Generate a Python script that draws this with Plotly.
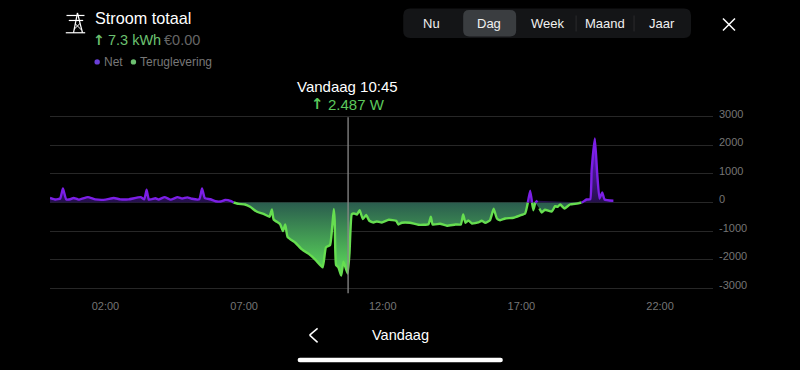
import plotly.graph_objects as go

# Chart data: minutes after midnight and power in W (positive = net, negative = teruglevering)
minutes = [0,12,22,28,35,44,51,62,82,98,120,138,152,170,196,204,209,214,228,235,248,261,276,286,297,307,323,329,335,347,358,369,379,392,
           397,408,422,433,448,462,475,480,484,498,504,509,514,531,545,560,574,590,597,606,610,614,616,619,624,630,635,644,648,653,658,664,670,
           677,684,691,700,707,718,733,749,754,761,779,797,819,824,828,844,859,877,889,894,899,905,913,927,934,942,952,960,967,974,985,1003,1017,1028,
           1034,1039,1043,1046,1050,1055,1059,1064,1071,1086,1093,1098,1104,1113,1125,1140,1150,
           1153,1161,1169,1172,1179,1184,1189,1195,1200,1219]
power = [160,105,140,490,115,115,160,100,190,110,100,160,110,110,190,115,450,100,150,105,190,100,190,140,180,130,115,490,150,115,45,35,90,45,
         0,-50,-70,-150,-325,-400,-500,-245,-595,-760,-1000,-770,-1200,-1410,-1640,-1800,-2000,-2270,-1570,-1490,-970,-230,-620,-2190,-2270,-2560,-2075,-2487,-1780,-410,-385,-420,-270,
         -580,-440,-640,-700,-665,-700,-605,-640,-770,-710,-710,-780,-760,-500,-770,-745,-815,-770,-770,-420,-710,-630,-735,-700,-640,-710,-620,-220,-560,-620,-560,-535,-455,-385,
         0,410,0,-270,0,60,-210,-350,-255,-315,-130,-150,-70,-210,-70,-35,0,
         20,105,115,1130,2240,1010,140,350,105,60]

net = [v if v >= 0 else None for v in power]
teruglevering = [v if v <= 0 else None for v in power]

y_ticks = [3000, 2000, 1000, 0, -1000, -2000, -3000]
y_labels = ["3000", "2000", "1000", "0", "-1000", "-2000", "-3000"]
x_ticks = [120, 420, 720, 1020, 1320]
x_labels = ["02:00", "07:00", "12:00", "17:00", "22:00"]
cursor_minute = 645
tabs = ["Nu", "Dag", "Week", "Maand", "Jaar"]

FONT = "Liberation Sans, Arial, sans-serif"
ARROW_FONT = "DejaVu Sans, sans-serif"
L, R, T, B = 49.5, 713.0, 113.64, 290.86


def px(x):
    return (x - L) / (R - L)


def py(y):
    return (B - y) / (B - T)


def seg(x0, y0, x1, y1, color="#ffffff", width=1.5):
    return dict(type="line", xref="paper", yref="paper", x0=px(x0), y0=py(y0), x1=px(x1), y1=py(y1),
                line=dict(color=color, width=width), layer="above")


def rrect(x0, y0, x1, y1, r, color):
    d = (f"M {px(x0+r)} {py(y0)} L {px(x1-r)} {py(y0)} Q {px(x1)} {py(y0)} {px(x1)} {py(y0+r)} "
         f"L {px(x1)} {py(y1-r)} Q {px(x1)} {py(y1)} {px(x1-r)} {py(y1)} L {px(x0+r)} {py(y1)} "
         f"Q {px(x0)} {py(y1)} {px(x0)} {py(y1-r)} L {px(x0)} {py(y0+r)} Q {px(x0)} {py(y0)} {px(x0+r)} {py(y0)} Z")
    return dict(type="path", xref="paper", yref="paper", path=d, fillcolor=color, line=dict(width=0), layer="below")


def dot(x, y, r, color):
    return dict(type="circle", xref="paper", yref="paper", x0=px(x - r), x1=px(x + r), y0=py(y + r), y1=py(y - r),
                fillcolor=color, line=dict(width=0), layer="above")


def text(x, y, s, size, color, anchor="left", family=FONT):
    return dict(xref="paper", yref="paper", x=px(x), y=py(y), text=s, showarrow=False, xanchor=anchor, yanchor="middle",
                font=dict(family=family, size=size, color=color), align=anchor, borderpad=0)


fig = go.Figure()
fig.add_trace(go.Scatter(
    x=minutes, y=teruglevering, name="Teruglevering", mode="lines",
    line=dict(color="#66de50", width=2.4, shape="spline", smoothing=0.4),
    fill="tozeroy",
    fillgradient=dict(type="vertical", colorscale=[[0, "#5ee05a"], [1, "#2a5c4e"]]),
    hoverinfo="skip",
))
fig.add_trace(go.Scatter(
    x=minutes, y=net, name="Net", mode="lines",
    line=dict(color="#7c1fe6", width=2.4, shape="spline", smoothing=0.4),
    fill="tozeroy",
    fillgradient=dict(type="vertical", colorscale=[[0, "#24104a"], [1, "#6a1fd8"]]),
    hoverinfo="skip",
))

shapes = [
    dict(type="line", xref="x", yref="paper", x0=cursor_minute, x1=cursor_minute, y0=py(117), y1=py(293),
         line=dict(color="#8a8a8a", width=1.3), layer="above"),
    rrect(403, 8, 691, 37.5, 7, "#141517"),
    rrect(463, 9.5, 516, 36, 6, "#3a3d40"),
    seg(576, 15, 576, 31, "#2a2b2d", 1),
    seg(634, 15, 634, 31, "#2a2b2d", 1),
    seg(723, 18, 735, 30),
    seg(735, 18, 723, 30),
    seg(317.3, 328.3, 309.3, 335),
    seg(309.3, 335, 317.3, 342.3),
    rrect(297.3, 357.7, 502.7, 362.3, 2.3, "#ffffff"),
    dot(96.7, 61.5, 2.7, "#6a3fd8"),
    dot(133, 61.5, 2.7, "#6cc070"),
    seg(65.3, 32.3, 84.7, 32.3, width=1.2),
    seg(66, 15, 84, 15, width=1.2),
    seg(68.3, 20, 82.7, 20, width=1.2),
    seg(77, 12.5, 73, 32.3, width=1.2),
    seg(77, 12.5, 82, 32.3, width=1.2),
    seg(74.5, 23, 80.5, 29, width=1),
    seg(79.5, 23, 73.5, 29, width=1),
]

annotations = [
    text(93.5, 18, "Stroom totaal", 16.2, "#ffffff"),
    text(98.5, 40, "<b>↑</b>", 14, "#6cc070", "center", ARROW_FONT),
    text(107, 40, "7.3 kWh", 14.5, "#6cc070"),
    text(163, 40, "€0.00", 14.5, "#666666"),
    text(102.5, 61.5, "Net", 12, "#777777"),
    text(139, 61.5, "Teruglevering", 12, "#777777"),
    text(347.5, 86.5, "Vandaag 10:45", 15, "#ffffff", "center"),
    text(317, 104, "<b>↑</b>", 15, "#5cc85c", "center", ARROW_FONT),
    text(327, 104.5, "2.487 W", 15, "#5cc85c"),
    text(400, 335, "Vandaag", 14.5, "#ffffff", "center"),
]
for label, cx in zip(tabs, [431, 489, 547, 605, 662]):
    annotations.append(text(cx, 23, label, 13, "#f0f0f0", "center"))

fig.update_layout(
    width=800, height=370, autosize=False,
    margin=dict(l=L, r=800 - R, t=T, b=370 - B, pad=0),
    paper_bgcolor="#000000", plot_bgcolor="#000000",
    showlegend=False,
    shapes=shapes, annotations=annotations,
    xaxis=dict(range=[0, 1434.6], tickmode="array", tickvals=x_ticks, ticktext=x_labels, showgrid=False, zeroline=False,
               showline=False, ticks="", ticklabelstandoff=7, tickfont=dict(family=FONT, size=11, color="#757575")),
    yaxis=dict(range=[-3100, 3100], side="right", tickmode="array", tickvals=y_ticks, ticktext=y_labels, showgrid=True,
               gridcolor="#272727", gridwidth=1, zeroline=False, showline=False, ticks="", ticklabelstandoff=5,
               ticklabelshift=-3, tickfont=dict(family=FONT, size=11, color="#757575")),
)
fig.write_html("out.html", config=dict(displayModeBar=False),
               post_script="document.body.style.margin='0';document.body.style.background='#000';document.body.style.overflow='hidden';")
